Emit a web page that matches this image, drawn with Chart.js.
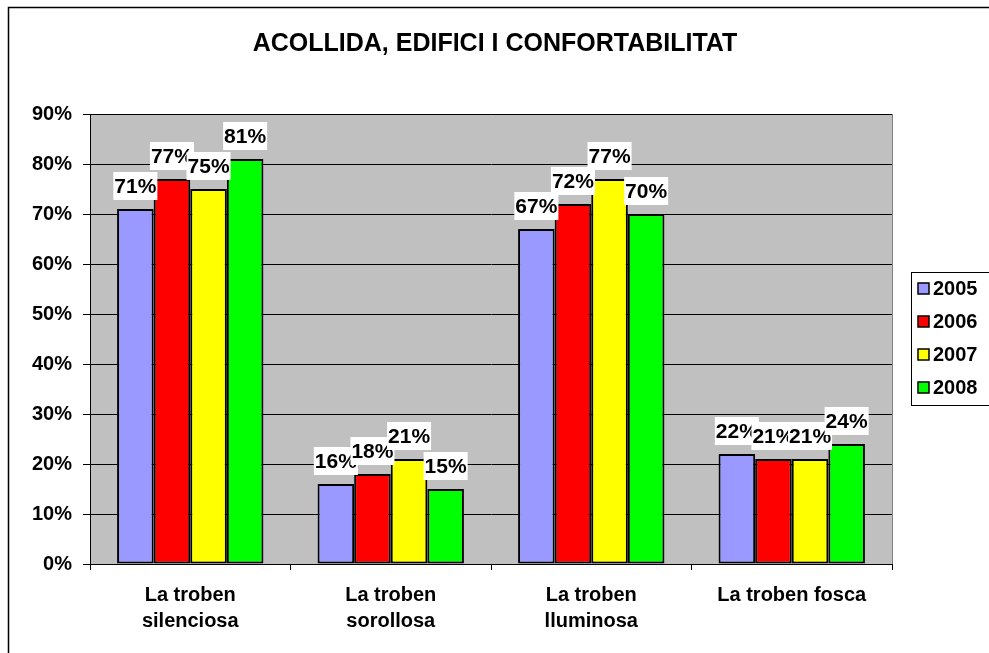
<!DOCTYPE html>
<html>
<head>
<meta charset="utf-8">
<script src="https://cdn.jsdelivr.net/npm/chart.js@4"></script>
<style>
  html, body { margin: 0; padding: 0; background: #fff; }
  #wrap { width: 989px; height: 653px; }
</style>
</head>
<body>
<div id="wrap"><canvas id="chart" width="989" height="653"></canvas></div>
<script>
const FONT = '"Liberation Sans", Arial, sans-serif';

const categories = [
    ['La troben', 'silenciosa'],
    ['La troben', 'sorollosa'],
    ['La troben', 'lluminosa'],
    'La troben fosca',
];
const years = ['2005', '2006', '2007', '2008'];
const values2005 = [71, 16, 67, 22];
const values2006 = [77, 18, 72, 21];
const values2007 = [75, 21, 77, 21];
const values2008 = [81, 15, 70, 24];
const colors = ['#9999FF', '#FF0000', '#FFFF00', '#00FF00'];
const yMax = 90;
const yStep = 10;

// gray plot area + title + outer frame
const frame = {
    id: 'frame',
    beforeDraw(chart) {
        const { ctx, chartArea: a } = chart;
        ctx.save();
        ctx.fillStyle = '#C0C0C0';
        ctx.fillRect(a.left, a.top, a.right - a.left, a.bottom - a.top);
        ctx.strokeStyle = '#808080';
        ctx.lineWidth = 1;
        ctx.strokeRect(a.left + 0.5, a.top + 0.5, a.right - a.left, a.bottom - a.top);
        ctx.strokeStyle = '#000';
        ctx.lineWidth = 1.5;
        ctx.strokeRect(8.5, 7.5, 1000, 700);
        ctx.fillStyle = '#000';
        ctx.font = 'bold 25px ' + FONT;
        ctx.textAlign = 'center';
        ctx.textBaseline = 'middle';
        ctx.fillText('ACOLLIDA, EDIFICI I CONFORTABILITAT', 495, 44);
        ctx.restore();
    },
};

// percentage labels on white boxes above the bars
const valueLabels = {
    id: 'valueLabels',
    afterDatasetsDraw(chart) {
        const ctx = chart.ctx;
        ctx.save();
        ctx.font = 'bold 21px ' + FONT;
        ctx.textAlign = 'center';
        ctx.textBaseline = 'alphabetic';
        chart.data.datasets.forEach((ds, i) => {
            chart.getDatasetMeta(i).data.forEach((bar, j) => {
                const txt = ds.data[j] + '%';
                const w = ctx.measureText(txt).width;
                const base = bar.y - 16;
                ctx.fillStyle = '#fff';
                ctx.fillRect(bar.x - w / 2 - 1, base - 21, w + 2, 28);
                ctx.fillStyle = '#000';
                ctx.fillText(txt, bar.x, base);
            });
        });
        ctx.restore();
    },
};

// boxed legend on the right
const sideLegend = {
    id: 'sideLegend',
    afterDraw(chart) {
        const ctx = chart.ctx;
        ctx.save();
        ctx.strokeStyle = '#000';
        ctx.lineWidth = 1;
        ctx.strokeRect(911.5, 272.5, 100, 133);
        ctx.font = 'bold 20px ' + FONT;
        ctx.textAlign = 'left';
        ctx.textBaseline = 'middle';
        chart.data.datasets.forEach((ds, i) => {
            const cy = 288 + i * 33;
            ctx.fillStyle = ds.backgroundColor;
            ctx.fillRect(918, cy - 5, 11, 11);
            ctx.lineWidth = 1.5;
            ctx.strokeRect(918, cy - 5, 11, 11);
            ctx.fillStyle = '#000';
            ctx.fillText(ds.label, 933, cy + 1);
        });
        ctx.restore();
    },
};

const seriesValues = [values2005, values2006, values2007, values2008];

const ctx = document.getElementById('chart').getContext('2d');
const myChart = new Chart(ctx, {
    type: 'bar',
    data: {
        labels: categories,
        datasets: years.map((y, i) => ({
            label: y,
            data: seriesValues[i],
            backgroundColor: colors[i],
            borderColor: '#000',
            borderWidth: 2,
            borderSkipped: false,
            categoryPercentage: 0.73,
            barPercentage: 1.0,
        })),
    },
    options: {
        responsive: false,
        animation: false,
        layout: { padding: { top: 114, right: 97, left: 0, bottom: 0 } },
        plugins: {
            legend: { display: false },
            title: { display: false },
            tooltip: { enabled: false },
        },
        scales: {
            x: {
                afterFit: s => { s.height = 89; },
                grid: { drawOnChartArea: false, color: '#000', tickLength: 6 },
                border: { color: '#000', width: 1 },
                ticks: {
                    color: '#000',
                    font: { family: FONT, size: 20, weight: 'bold', lineHeight: 1.3 },
                    padding: 12,
                    maxRotation: 0,
                },
            },
            y: {
                min: 0,
                max: yMax,
                afterFit: s => { s.width = 90; },
                grid: { color: '#000', tickLength: 7 },
                border: { color: '#000', width: 1 },
                ticks: {
                    stepSize: yStep,
                    color: '#000',
                    padding: 11,
                    font: { family: FONT, size: 20, weight: 'bold' },
                    callback: v => v + '%',
                },
            },
        },
    },
    plugins: [frame, valueLabels, sideLegend],
});
</script>
</body>
</html>
